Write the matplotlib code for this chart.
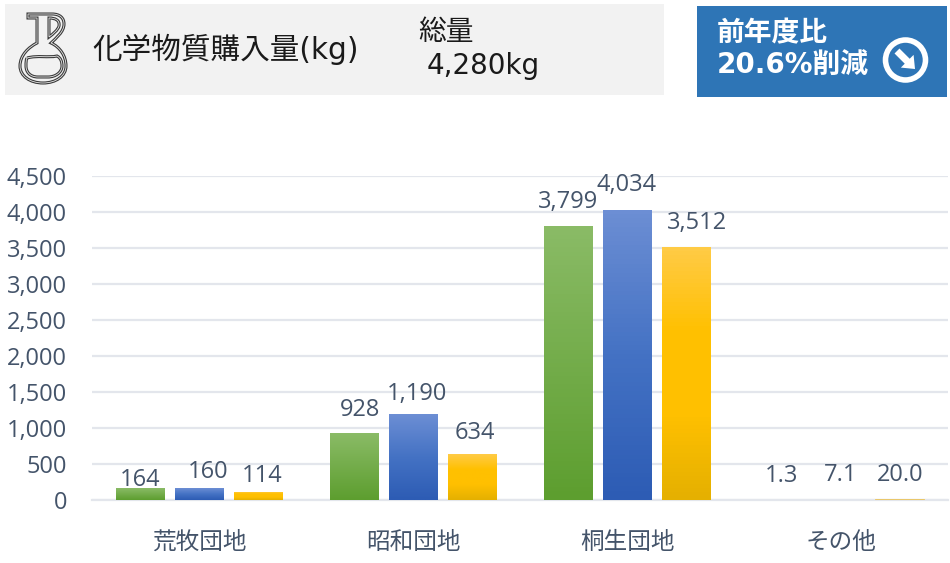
import numpy as np
import matplotlib
matplotlib.use('Agg')
import matplotlib.pyplot as plt
from matplotlib.patches import Rectangle, Circle, PathPatch, FancyArrow
from matplotlib.path import Path
from matplotlib.colors import LinearSegmentedColormap

plt.rcParams['font.family'] = ['Open Sans', 'Noto Sans CJK JP', 'DejaVu Sans']
header_font = ['DejaVu Sans', 'Noto Sans CJK JP']

categories = ['荒牧団地', '昭和団地', '桐生団地', 'その他']
year1 = [164, 928, 3799, 1.3]
year2 = [160, 1190, 4034, 7.1]
year3 = [114, 634, 3512, 20.0]
labels1 = ['164', '928', '3,799', '1.3']
labels2 = ['160', '1,190', '4,034', '7.1']
labels3 = ['114', '634', '3,512', '20.0']
yticks = [0, 500, 1000, 1500, 2000, 2500, 3000, 3500, 4000, 4500]

# label centre relative to the bar top, in pixels (dx, up)
shift1 = [(0, 8), (6, 23), (0, 24), (0, 24)]
shift2 = [(9, 16), (4, 20), (0, 25), (0, 24)]
shift3 = [(4, 16), (3, 21), (11, 24), (0, 24)]

series = [
    (year1, labels1, shift1, ['#8abb66', '#5d9e2f']),
    (year2, labels2, shift2, ['#6c8ed4', '#4472c4', '#2d5cb4']),
    (year3, labels3, shift3, ['#ffcb45', '#ffc000', '#ffc000', '#e5b000']),
]

W, H = 950, 563
fig = plt.figure(figsize=(W/100, H/100), dpi=100)

# chart
ax = fig.add_axes([92/W, 1-500/H, 856/W, 324/H])
for s in ['top', 'right', 'left']:
    ax.spines[s].set_visible(False)
ax.spines['bottom'].set_color('#e3e6ec')
ax.spines['bottom'].set_linewidth(1.6)
ax.set_yticks(yticks)
ax.set_yticklabels([f'{v:,}' for v in yticks])
ax.set_xticks(range(4))
ax.set_xticklabels(categories)
ax.tick_params(axis='both', length=0, colors='#44546a', labelsize=17)
ax.tick_params(axis='x', pad=22)
ax.tick_params(axis='y', pad=18)
ax.grid(axis='y', color='#e3e6ec', linewidth=1.6)
ax.set_axisbelow(True)

width = 49/214
step = 59/214
for i, (vals, labs, shifts, stops) in enumerate(series):
    cmap = LinearSegmentedColormap.from_list('g', stops)
    xs = np.arange(4) + (i-1)*step
    bars = ax.bar(xs, vals, width=width, color='none', zorder=3)
    for b, v, lab, (dx, up) in zip(bars, vals, labs, shifts):
        x0 = b.get_x()
        if v < 50:
            # too thin for a gradient
            if v > 10:
                b.set_facecolor('#eac76a')
                b.set_edgecolor('#eac76a')
                b.set_linewidth(0.7)
        else:
            im = ax.imshow(np.linspace(0, 1, 64).reshape(-1, 1), cmap=cmap, aspect='auto',
                           extent=(x0, x0+width, 0, v), zorder=3)
            im.set_clip_path(b)
        ax.annotate(lab, (x0+width/2, v), xytext=(dx*0.72, up*0.72), textcoords='offset points',
                    ha='center', va='center', color='#44546a', fontsize=17, zorder=4)
ax.set_xlim(-0.5, 3.5)
ax.set_ylim(0, 4500)

# header overlay in pixel coordinates
ov = fig.add_axes([0, 0, 1, 1], zorder=5)
ov.set_xlim(0, W)
ov.set_ylim(H, 0)
ov.axis('off')
ov.add_patch(Rectangle((5, 4), 659, 91, color='#f2f2f2', lw=0))
ov.add_patch(Rectangle((697, 6), 250, 91, color='#2e75b6', lw=0))

txt = '#1a1a1a'
ov.text(92, 49, '化学物質購入量(kg)', fontsize=21.3, color=txt, ha='left', va='center', family=header_font)
ov.text(418, 32, '総量', fontsize=20, color=txt, ha='left', va='center', family=header_font)
ov.text(427, 66, '4,280kg', fontsize=20, color=txt, ha='left', va='center', family=header_font)
ov.text(717, 33, '前年度比', fontsize=20, color='white', fontweight='bold', ha='left', va='center', family=header_font)
ov.text(717, 66, '20.6%削減', fontsize=20, color='white', fontweight='bold', ha='left', va='center', family=header_font)

# arrow icon
ov.add_patch(Circle((905.5, 60), 20, fill=False, ec='white', lw=4))
ov.add_patch(FancyArrow(897, 51, 18, 18, width=7, head_width=18, head_length=11,
                        length_includes_head=True, color='white', lw=0))

# flask icon
M, L, C, Z = Path.MOVETO, Path.LINETO, Path.CURVE4, Path.CLOSEPOLY
flask = Path(
    [(28, 14), (52, 14), (60, 14), (64, 18), (64, 24), (64, 32), (56, 38), (51, 43),
     (60, 47), (66, 56), (66, 66), (66, 76), (56, 83), (43, 83), (30, 83), (20, 76), (20, 66),
     (20, 55), (29, 47), (37, 43), (37, 18), (28, 18), (28, 14)],
    [M, L, C, C, C, C, C, C, C, C, C, C, C, C, C, C, C, C, C, C, L, L, Z])
inner = Path(
    [(49, 18), (55, 18), (60, 20), (59, 26), (58, 30), (53, 34), (49, 37), (49, 18)],
    [M, C, C, C, C, C, C, Z])
liquid = Path(
    [(27, 58), (38, 55), (48, 58), (57, 56), (61, 58), (62, 62), (62, 66), (62, 72), (56, 77),
     (48, 77), (38, 77), (30, 77), (26, 72), (26, 66), (26, 62), (26, 60), (27, 58)],
    [M, C, C, C, C, C, C, C, C, C, L, C, C, C, C, C, C])
for p in (flask, inner, liquid):
    ov.add_patch(PathPatch(p, fill=False, ec='#3a3a3a', lw=2.2))
    ov.add_patch(PathPatch(p, fill=False, ec='#e8e8e8', lw=0.6))

fig.savefig('out.png', dpi=100)
